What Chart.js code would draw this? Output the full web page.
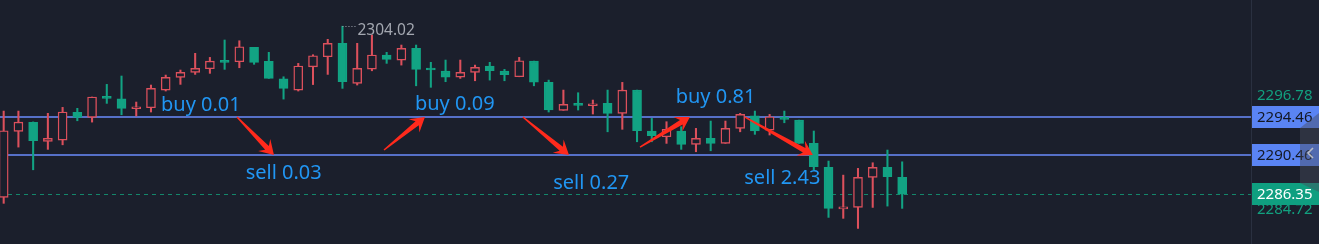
<!DOCTYPE html>
<html>
<head>
<meta charset="utf-8">
<script src="https://cdn.jsdelivr.net/npm/chart.js@4.4.1/dist/chart.umd.min.js"></script>
<style>
html,body{margin:0;padding:0;background:#1b1f2c;}
#wrap{width:1319px;height:244px;position:relative;}
</style>
</head>
<body>
<div id="wrap"><canvas id="kChart"></canvas></div>
<script>
// candles (red hollow = up, green filled = down)
let opens=[2286.01,2292.95,2293.90,2291.90,2292.04,2294.95,2294.43,2296.53,2296.39,2295.33,
  2295.44,2297.30,2298.64,2299.17,2299.54,2300.32,2300.28,2301.80,2300.32,2298.49,
  2297.30,2299.75,2300.81,2302.22,2298.01,2299.51,2300.99,2300.46,2301.69,2299.59,
  2299.30,2298.67,2299.17,2299.83,2299.30,2298.70,2300.35,2298.11,2295.17,2295.83,
  2295.65,2295.90,2294.85,2297.30,2292.99,2292.39,2292.99,2291.59,2292.22,2291.69,
  2293.27,2294.60,2293.09,2294.35,2294.14,2291.69,2289.17,2284.78,2284.95,2288.11,
  2289.17,2288.11];
let highs=[2295.09,2295.09,2293.95,2294.85,2295.48,2295.38,2296.57,2297.90,2298.78,2296.04,
  2297.83,2298.88,2299.41,2301.17,2300.74,2302.57,2302.49,2301.80,2301.27,2298.70,
  2300.11,2301.02,2302.64,2304.02,2302.22,2303.09,2301.27,2302.04,2302.04,2300.22,
  2300.46,2300.46,2299.93,2300.22,2299.48,2300.74,2300.35,2298.35,2297.30,2297.02,
  2296.25,2297.30,2298.11,2297.30,2294.32,2293.97,2293.44,2293.27,2294.04,2294.04,
  2294.85,2295.09,2294.74,2295.09,2294.14,2292.99,2289.83,2288.35,2289.06,2289.65,
  2290.99,2289.75];
let lows=[2285.38,2291.30,2288.91,2291.06,2291.54,2294.07,2293.93,2295.90,2294.70,2294.57,
  2294.99,2297.20,2297.90,2298.95,2299.06,2299.48,2299.65,2300.01,2298.53,2296.35,
  2297.20,2297.88,2298.95,2297.48,2297.83,2299.33,2300.11,2299.93,2297.75,2297.59,
  2298.18,2298.53,2298.28,2298.35,2298.28,2298.70,2297.75,2294.99,2295.17,2295.20,
  2294.78,2292.91,2293.17,2291.86,2291.86,2291.69,2291.06,2290.81,2290.91,2291.69,
  2292.91,2292.64,2292.57,2293.86,2291.69,2288.88,2283.90,2283.80,2282.74,2284.95,
  2285.09,2284.85];
let closes=[2293.02,2293.93,2291.97,2292.22,2294.99,2294.43,2296.57,2296.43,2295.38,2295.48,
  2297.48,2298.64,2299.17,2299.59,2300.35,2300.22,2301.86,2300.22,2298.53,2297.48,
  2299.83,2300.91,2302.22,2298.18,2299.59,2300.99,2300.53,2301.69,2299.48,2299.41,
  2298.67,2299.17,2299.69,2299.33,2298.91,2300.39,2298.14,2295.20,2295.80,2295.69,
  2295.83,2294.85,2297.30,2293.02,2292.49,2293.17,2291.59,2292.22,2291.69,2293.27,
  2294.74,2292.99,2294.49,2294.22,2291.69,2289.23,2284.85,2285.02,2288.11,2289.17,
  2288.18,2286.35];

// price levels and axis labels
let lineLevels=[2294.46,2290.46];
let lastPrice=2286.35;
let axisLabels=[2296.78,2284.72];
let peakIndex=23;
let peakPrice=2304.02;

// trade notes: text, candle position, price of baseline
let noteTexts=["buy 0.01","sell 0.03","buy 0.09","sell 0.27","buy 0.81","sell 2.43"];
let noteX=[10.68,16.43,27.92,37.31,45.62,50.28];
let noteY=[2295.09,2287.93,2295.20,2286.85,2295.90,2287.38];

// red arrows between the levels
let arrowFromX=[15.84,25.82,35.25,43.20,50.33];
let arrowFromY=[2294.46,2290.99,2294.46,2291.30,2294.46];
let arrowToX=[18.35,28.60,38.38,46.59,54.94];
let arrowToY=[2290.46,2294.46,2290.46,2294.46,2290.46];

const BG="#1b1f2c";
const UP="#dc505c";
const DOWN="#12a383";

let bodies=[], wicks=[], bodyFill=[], candleColor=[];
for(let i=0;i<opens.length;i++){
    bodies.push({x:i,y:[opens[i],closes[i]]});
    wicks.push({x:i,y:[lows[i],highs[i]]});
    let up=closes[i]>=opens[i];
    candleColor.push(up?UP:DOWN);
    bodyFill.push(up?BG:DOWN);
}

function drawArrow(ctx,x1,y1,x2,y2){
    let dx=x2-x1, dy=y2-y1;
    let L=Math.sqrt(dx*dx+dy*dy);
    ctx.save();
    ctx.translate(x1,y1);
    ctx.rotate(Math.atan2(dy,dx));
    ctx.beginPath();
    ctx.moveTo(0,-0.7);
    ctx.lineTo(L-10,-2.6);
    ctx.lineTo(L-14,-8.5);
    ctx.lineTo(L,0);
    ctx.lineTo(L-14,8.5);
    ctx.lineTo(L-10,2.6);
    ctx.lineTo(0,0.7);
    ctx.closePath();
    ctx.fillStyle="#ff2a1c";
    ctx.fill();
    ctx.restore();
}

function priceBox(ctx,y,text,bg,fg){
    ctx.fillStyle=bg;
    ctx.fillRect(1252,Math.round(y)-11,67,22);
    ctx.fillStyle=fg;
    ctx.font="15px 'Noto Sans'";
    ctx.textAlign="left";
    ctx.textBaseline="middle";
    ctx.fillText(text,1257,y+0.5);
}

const overlay={
    id:"overlay",
    beforeDatasetsDraw(chart){
        let ctx=chart.ctx, ys=chart.scales.y;
        let area=chart.chartArea;
        ctx.save();
        // levels
        ctx.strokeStyle="#5670c8";
        ctx.lineWidth=2;
        for(let i=0;i<lineLevels.length;i++){
            let y=ys.getPixelForValue(lineLevels[i]);
            ctx.beginPath();
            ctx.moveTo(area.left,y);
            ctx.lineTo(area.right,y);
            ctx.stroke();
        }
        // last price dashed
        let yl=Math.round(ys.getPixelForValue(lastPrice))+0.5;
        ctx.strokeStyle="#14876b";
        ctx.lineWidth=1;
        ctx.setLineDash([4,4]);
        ctx.beginPath();
        ctx.moveTo(area.left,yl);
        ctx.lineTo(area.right,yl);
        ctx.stroke();
        ctx.setLineDash([]);
        ctx.restore();
    },
    afterDatasetsDraw(chart){
        let ctx=chart.ctx, xs=chart.scales.x, ys=chart.scales.y;
        ctx.save();
        // peak marker
        let px=xs.getPixelForValue(peakIndex), py=ys.getPixelForValue(peakPrice);
        ctx.strokeStyle="#9ea3ad";
        ctx.lineWidth=1;
        ctx.setLineDash([1,2]);
        ctx.beginPath();
        ctx.moveTo(px,Math.round(py)+0.5);
        ctx.lineTo(px+13,Math.round(py)+0.5);
        ctx.stroke();
        ctx.setLineDash([]);
        ctx.fillStyle="#a3a7b0";
        ctx.font="15.5px 'Noto Sans'";
        ctx.textAlign="left";
        ctx.textBaseline="middle";
        ctx.fillText(peakPrice.toFixed(2),px+15,py+4);
        // notes
        ctx.fillStyle="#2196f3";
        ctx.font="20px 'Noto Sans'";
        ctx.textBaseline="alphabetic";
        for(let i=0;i<noteTexts.length;i++){
            ctx.fillText(noteTexts[i],xs.getPixelForValue(noteX[i]),ys.getPixelForValue(noteY[i]));
        }
        // arrows
        for(let i=0;i<arrowFromX.length;i++){
            drawArrow(ctx,xs.getPixelForValue(arrowFromX[i]),ys.getPixelForValue(arrowFromY[i]),
                xs.getPixelForValue(arrowToX[i]),ys.getPixelForValue(arrowToY[i]));
        }
        ctx.restore();
    },
    afterDraw(chart){
        let ctx=chart.ctx, ys=chart.scales.y;
        ctx.save();
        // price axis border
        ctx.strokeStyle="#2a3040";
        ctx.lineWidth=1;
        ctx.beginPath();
        ctx.moveTo(1251.5,0);
        ctx.lineTo(1251.5,244);
        ctx.stroke();
        // plain tick labels
        ctx.fillStyle="#12a07f";
        ctx.font="15px 'Noto Sans'";
        ctx.textAlign="left";
        ctx.textBaseline="middle";
        for(let i=0;i<axisLabels.length;i++){
            ctx.fillText(axisLabels[i].toFixed(2),1257,ys.getPixelForValue(axisLabels[i])+0.5);
        }
        // boxed labels
        for(let i=0;i<lineLevels.length;i++){
            priceBox(ctx,ys.getPixelForValue(lineLevels[i]),lineLevels[i].toFixed(2),"#5a84f4","#131722");
        }
        priceBox(ctx,ys.getPixelForValue(lastPrice),lastPrice.toFixed(2),"#0f9f80","#ffffff");
        // scroll handle
        ctx.fillStyle="rgba(70,75,90,0.45)";
        ctx.beginPath();
        ctx.moveTo(1300,128);
        ctx.lineTo(1319,113);
        ctx.lineTo(1319,192);
        ctx.lineTo(1300,183);
        ctx.closePath();
        ctx.fill();
        ctx.strokeStyle="#b8bcc6";
        ctx.lineWidth=1.6;
        ctx.beginPath();
        ctx.moveTo(1313,148);
        ctx.lineTo(1308,153);
        ctx.lineTo(1313,158);
        ctx.stroke();
        ctx.restore();
    }
};

let ctx=document.getElementById("kChart").getContext("2d");
let kChart=new Chart(ctx,{
    type:"bar",
    data:{
        datasets:[{
            label:"body",
            data:bodies,
            backgroundColor:bodyFill,
            borderColor:candleColor,
            borderWidth:1.4,
            borderSkipped:false,
            barThickness:9,
            minBarLength:2,
            grouped:false,
            order:0
        },{
            label:"wick",
            data:wicks,
            backgroundColor:candleColor,
            borderWidth:0,
            barThickness:1.4,
            grouped:false,
            order:1
        }]
    },
    options:{
        responsive:true,
        maintainAspectRatio:false,
        animation:false,
        layout:{padding:{left:0,right:67,top:0,bottom:0}},
        plugins:{legend:{display:false},tooltip:{enabled:false}},
        scales:{
            x:{type:"linear",display:false,offset:false,min:-0.25,max:84.75},
            y:{display:false,min:2281.10,max:2306.78}
        }
    },
    plugins:[overlay]
});
</script>
</body>
</html>
